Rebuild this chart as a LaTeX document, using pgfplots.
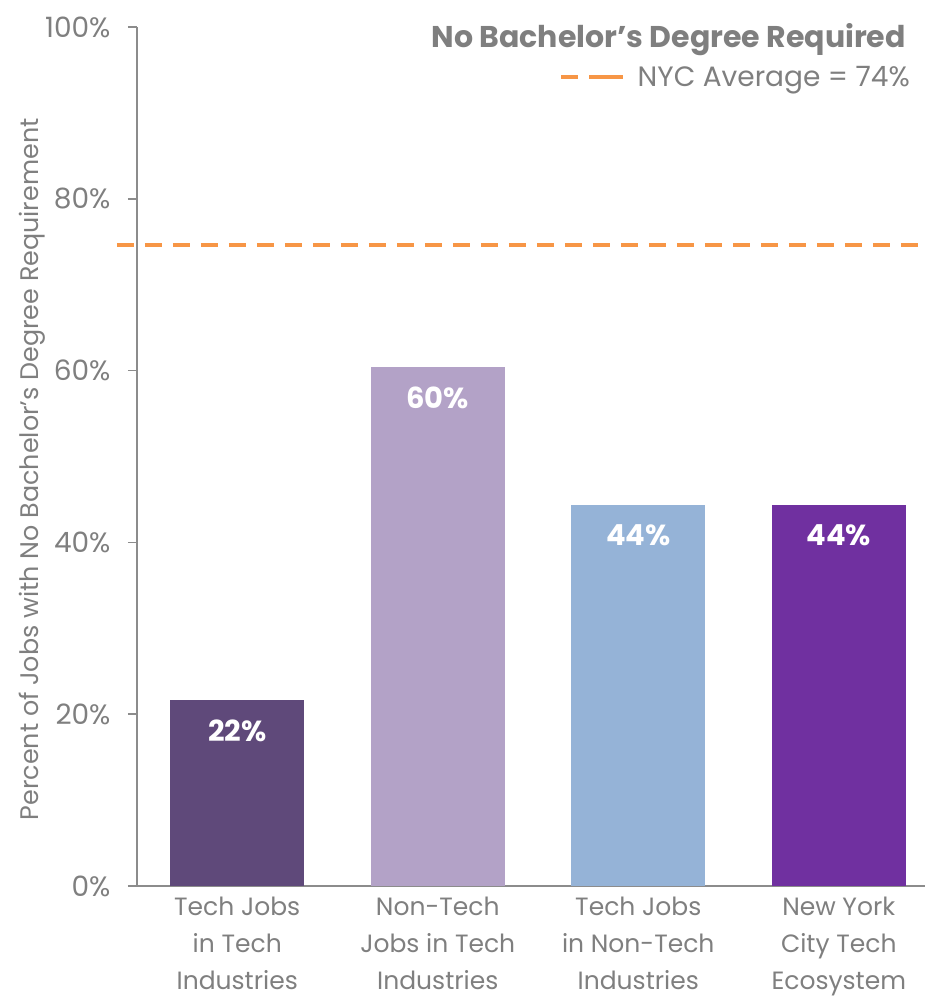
\documentclass[border=0pt]{standalone}
\usepackage{fontspec}
\setmainfont{Poppins}
\usepackage{pgfplots}
\pgfplotsset{compat=1.18}
\definecolor{txtgray}{HTML}{7F7F7F}
\definecolor{axgray}{HTML}{8C8C8C}
\definecolor{c1}{HTML}{5F497A}
\definecolor{c2}{HTML}{B3A2C7}
\definecolor{c3}{HTML}{95B3D7}
\definecolor{c4}{HTML}{7030A0}
\definecolor{orng}{HTML}{F79646}
\begin{document}
\begin{tikzpicture}
\begin{axis}[
  scale only axis, width=788pt, height=859pt,
  xmin=-0.5, xmax=3.43, ymin=0, ymax=100,
  clip=false,
  axis x line*=bottom, axis y line*=left,
  axis line style={draw=axgray, line width=1.6pt},
  /pgf/number format/assume math mode=true,
  ytick={0,20,40,60,80,100},
  yticklabel={\pgfmathprintnumber{\tick}\%},
  tick align=outside, major tick length=9pt,
  ytick style={draw=axgray, line width=1.6pt},
  yticklabel style={font=\fontsize{28}{32}\selectfont, text=txtgray, xshift=-14pt},
  xtick={0,1,2,3},
  xtick style={draw=none},
  xticklabels={{Tech Jobs\\in Tech\\Industries},{Non-Tech\\Jobs in Tech\\Industries},{Tech Jobs\\in Non-Tech\\Industries},{New York\\City Tech\\Ecosystem}},
  xticklabel style={align=center, font=\fontsize{25}{37}\selectfont, text=txtgray, yshift=-1pt, inner ysep=1pt},
  every axis y label/.style={at={(rel axis cs:0,0.485)}, xshift=-105pt, rotate=90, anchor=center},
  ylabel={Percent of Jobs with No Bachelor’s Degree Requirement},
  ylabel style={font=\fontsize{25.4}{30}\selectfont, text=txtgray},
  legend style={draw=none, fill=none, at={(rel axis cs:1,1)}, anchor=north east, xshift=-10pt, yshift=-35pt, font=\fontsize{28}{32}\selectfont, text=txtgray},
  legend image code/.code={\draw[#1] (-5pt,0pt) -- (40pt,0pt); \path (40pt,0pt) -- (67pt,0pt);},
  barstyle/.style={ybar, bar width=0.67, bar shift=0pt, draw=none,
    nodes near coords={\pgfmathprintnumber[fixed,precision=0,assume math mode=true]{\pgfplotspointmeta}\%},
    every node near coord/.append style={font=\bfseries\fontsize{29}{32}\selectfont, text=white, anchor=center, yshift=-31pt}},
]
\addplot[barstyle, fill=c1, forget plot] coordinates {(0,21.7)};
\addplot[barstyle, fill=c2, forget plot] coordinates {(1,60.4)};
\addplot[barstyle, fill=c3, forget plot] coordinates {(2,44.4)};
\addplot[barstyle, fill=c4, forget plot] coordinates {(3,44.4)};
\addplot[sharp plot, orng, line width=4.5pt, dash pattern=on 17pt off 11pt] coordinates {(-0.6,74.6) (3.43,74.6)};
\addlegendentry{NYC Average = 74\%}
\node[anchor=base east, inner sep=0pt, font=\bfseries\fontsize{30}{34}\selectfont, text=txtgray] at (rel axis cs:1,1) [xshift=-19pt, yshift=-21pt] {No Bachelor’s Degree Required};
\end{axis}
\pgfresetboundingbox
\path[use as bounding box] (current axis.south west) ++(-137pt,-117pt) rectangle ++(925pt,1003pt);
\end{tikzpicture}
\end{document}
